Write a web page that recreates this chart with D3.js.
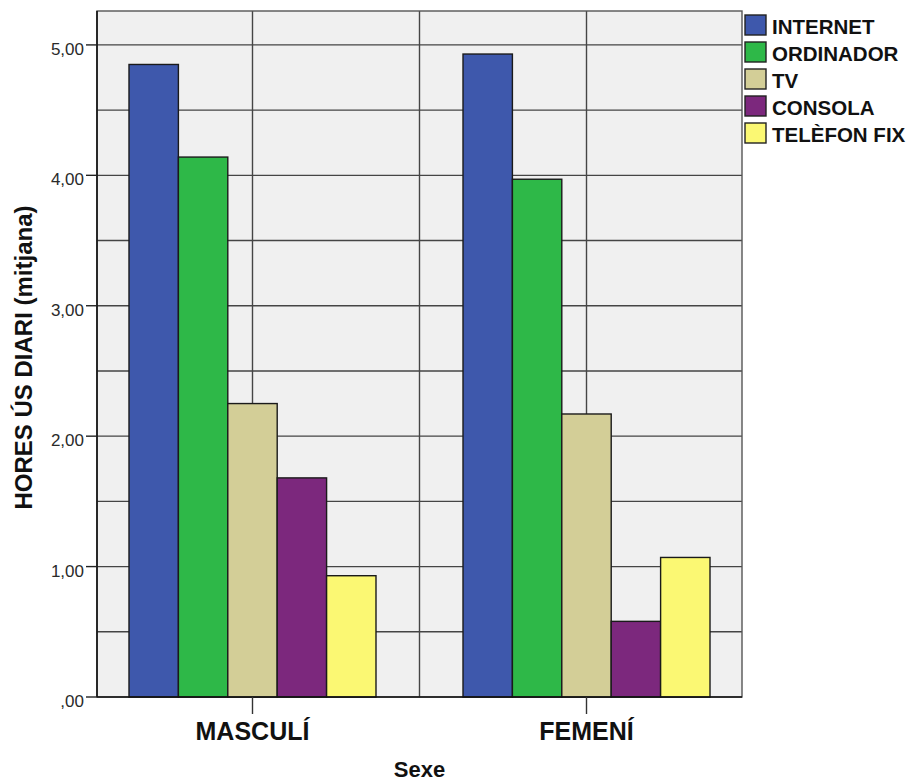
<!DOCTYPE html>
<html>
<head>
<meta charset="utf-8">
<script src="https://cdn.jsdelivr.net/npm/d3@7"></script>
<style>
  html, body { margin: 0; padding: 0; background: #ffffff; }
  svg { display: block; font-family: "Liberation Sans", Arial, sans-serif; }
</style>
</head>
<body>
<svg id="chart" width="908" height="782"></svg>
<script>
// ---- data ----
const categories = ["MASCULÍ", "FEMENÍ"];
const seriesNames = ["INTERNET", "ORDINADOR", "TV", "CONSOLA", "TELÈFON FIX"];
const internet   = [4.85, 4.93];
const ordinador  = [4.14, 3.97];
const tv         = [2.25, 2.17];
const consola    = [1.68, 0.58];
const telefonFix = [0.93, 1.07];
const yTicks = [0, 1, 2, 3, 4, 5];
const yTickLabels = [",00", "1,00", "2,00", "3,00", "4,00", "5,00"];
const yGrid = [0.5, 1, 1.5, 2, 2.5, 3, 3.5, 4, 4.5, 5];
const colors = ["#3E58AC", "#2EB848", "#D3CE97", "#7C287D", "#FBF873"];
const xTitle = "Sexe";
const yTitle = "HORES ÚS DIARI (mitjana)";

const seriesValues = [internet, ordinador, tv, consola, telefonFix];

// ---- layout ----
const svg = d3.select("#chart");
const pL = 97, pR = 742, pT = 11, pB = 697;

const x = d3.scaleBand().domain(categories).range([pL, pR])
  .paddingInner(0.2605).paddingOuter(0.0958);
const xs = d3.scaleBand().domain(seriesNames).range([0, x.bandwidth()]).padding(0);
const y = d3.scaleLinear().domain([0, 5.26]).range([pB, pT]);

// plot background
svg.append("rect").attr("x", pL).attr("y", pT)
  .attr("width", pR - pL).attr("height", pB - pT)
  .attr("fill", "#f0f0f0");

const gridColor = "#454545";
// horizontal grid
svg.append("g").selectAll("line").data(yGrid).join("line")
  .attr("x1", pL).attr("x2", pR)
  .attr("y1", d => y(d)).attr("y2", d => y(d))
  .attr("stroke", gridColor).attr("stroke-width", 1.4);

// vertical grid: band centres and midpoint between bands
const xc = categories.map(c => x(c) + x.bandwidth() / 2);
const vgrid = [xc[0], (xc[0] + xc[1]) / 2, xc[1]];
svg.append("g").selectAll("line").data(vgrid).join("line")
  .attr("x1", d => d).attr("x2", d => d)
  .attr("y1", pT).attr("y2", pB)
  .attr("stroke", gridColor).attr("stroke-width", 1.4);

// frame
svg.append("rect").attr("x", pL).attr("y", pT)
  .attr("width", pR - pL).attr("height", pB - pT)
  .attr("fill", "none").attr("stroke", "#555").attr("stroke-width", 1.4);

// bars
const barData = [];
categories.forEach((c, i) => {
  seriesNames.forEach((s, j) => {
    barData.push({ cat: c, ser: s, value: seriesValues[j][i], color: colors[j] });
  });
});
svg.append("g").selectAll("rect").data(barData).join("rect")
  .attr("x", d => x(d.cat) + xs(d.ser))
  .attr("y", d => y(d.value))
  .attr("width", xs.bandwidth())
  .attr("height", d => y(0) - y(d.value))
  .attr("fill", d => d.color)
  .attr("stroke", "#1a1a1a").attr("stroke-width", 1.4);

// axes lines
svg.append("line").attr("x1", pL).attr("x2", pL).attr("y1", pT).attr("y2", pB)
  .attr("stroke", "#111").attr("stroke-width", 1.6);
svg.append("line").attr("x1", pL).attr("x2", pR).attr("y1", pB).attr("y2", pB)
  .attr("stroke", "#111").attr("stroke-width", 1.6);

// y ticks + labels
const yt = svg.append("g");
yt.selectAll("line").data(yTicks).join("line")
  .attr("x1", pL - 11).attr("x2", pL)
  .attr("y1", d => y(d)).attr("y2", d => y(d))
  .attr("stroke", "#222").attr("stroke-width", 1.4);
yt.selectAll("text").data(yTicks).join("text")
  .attr("x", pL - 13).attr("y", d => y(d) + 10)
  .attr("text-anchor", "end")
  .attr("font-size", 17).attr("fill", "#2a2a2a")
  .text((d, i) => yTickLabels[i]);

// x ticks + labels
const xt = svg.append("g");
xt.selectAll("line").data(categories).join("line")
  .attr("x1", d => x(d) + x.bandwidth() / 2).attr("x2", d => x(d) + x.bandwidth() / 2)
  .attr("y1", pB).attr("y2", pB + 17)
  .attr("stroke", "#333").attr("stroke-width", 1.4);
xt.selectAll("text").data(categories).join("text")
  .attr("x", d => x(d) + x.bandwidth() / 2).attr("y", 740)
  .attr("text-anchor", "middle")
  .attr("font-size", 25).attr("font-weight", "bold").attr("fill", "#111")
  .text(d => d);

// axis titles
svg.append("text").attr("x", (pL + pR) / 2).attr("y", 777)
  .attr("text-anchor", "middle").attr("font-size", 22).attr("font-weight", "bold")
  .attr("fill", "#111").text(xTitle);
svg.append("text").attr("transform", "translate(32,357.5) rotate(-90)")
  .attr("text-anchor", "middle").attr("font-size", 24).attr("font-weight", "bold")
  .attr("fill", "#111").text(yTitle);

// legend
const lg = svg.append("g");
const rows = lg.selectAll("g").data(seriesNames).join("g")
  .attr("transform", (d, i) => `translate(745, ${15 + i * 27})`);
rows.append("rect").attr("width", 21).attr("height", 20)
  .attr("fill", (d, i) => colors[i]).attr("stroke", "#222").attr("stroke-width", 1.4);
rows.append("text").attr("x", 27).attr("y", 19)
  .attr("font-size", 20.5).attr("font-weight", "bold").attr("fill", "#111")
  .text(d => d);
</script>
</body>
</html>
